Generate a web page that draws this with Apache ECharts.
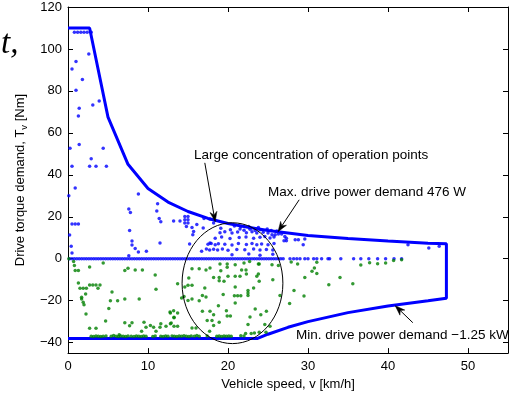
<!DOCTYPE html>
<html><head><meta charset="utf-8">
<script src="https://cdn.jsdelivr.net/npm/echarts@6/dist/echarts.min.js"></script>
<style>html,body{margin:0;padding:0;background:#fff}#c{width:511px;height:396px}</style>
</head><body><div id="c"></div>
<script>
// ---------- data ----------
const xTicks = [0, 10, 20, 30, 40, 50];
const yTicks = [-40, -20, 0, 20, 40, 60, 80, 100, 120];

// operating-region boundary (max torque / max power, then min power / min torque)
const boundary = [[0,110],[2.7,110],[5,67.5],[7.5,45],[10,33.5],[12.5,27],[15,22.5],[17.5,19.2],[20,16.8],[22.5,15],[25,13.4],[30,11.1],[35,9.6],[40,8.4],[45,7.4],[47.3,7.1],[47.3,-18.8],[45,-20],[40,-22.5],[35,-25.7],[30,-30],[27.5,-32.7],[25,-36],[23.7,-38],[0,-38]];

// speeds of blue operating points lying on T = 0
const zeroSpeeds = [0.2,0.5,0.8,1.1,1.4,1.7,2.0,2.3,2.6,2.9,3.2,3.5,3.8,4.1,4.4,4.7,5.0,5.3,5.6,5.9,6.2,6.5,6.8,7.1,7.4,7.7,8.0,8.3,8.6,8.9,9.2,9.5,9.8,10.1,10.4,10.7,11.0,11.3,11.6,11.9,12.2,12.5,12.8,13.1,13.4,13.7,14.0,14.3,14.6,14.9,15.2,15.5,15.8,16.1,16.4,16.7,17.0,17.3,17.6,17.9,18.2,18.5,18.8,19.1,19.4,19.7,20.0,20.3,20.6,20.9,21.2,21.5,21.8,22.1,22.4,22.7,23.0,23.3,23.6,23.9,24.2,24.5,24.8,25.1,25.4,25.7,26.0,26.3,26.6,26.9,27.75,28.2,28.6,29.0,29.6,30.0,30.7,31.1,31.7,32.5,32.7,34.1,35.7,36.6,37.6,38.7,39.7,40.75,41.7];

// blue operating points (T > 0)
const bluePoints = [[0.8,108],[1.2,108],[1.6,108],[2.0,108],[2.4,108],[2.9,108],
[2.6,97.6],[1.0,94],[0.5,90.5],[1.8,85.4],[1.0,80.3],[3.9,75.2],[3.1,73.3],[1.4,71.7],[1.3,68],[0.25,52.7],[1.4,54.4],[4.4,52.7],[2.9,47.6],[0.5,44.1],[2.7,44.1],[3.5,44.1],[4.8,44.1],[0.9,33.7],[0.1,30],[8.8,30.8],
[7.6,23.7],[7.8,22],[11.1,22.7],[11.4,19.2],[11.6,17.6],[11.2,26.2],[0.5,16.5],[0.9,16.5],[1.3,16.5],[7.7,13.5],[0.2,11.3],[8.0,8.4],[8.0,6.5],[8.4,4.9],[0.4,5.9],[8.8,3.2],[9.8,3.5],[0.5,2.7],[7.6,1.4],[11.5,7.5],
[13.2,18],[14.0,18],[14.6,20.1],[15.0,20.1],[14.6,18.6],[15.0,18.6],[14.6,17],[15.0,17],[14.8,15.4],[15.5,14.9],[15.7,13],[15.6,11.4],[16.1,16.3],[16.9,14.6],[17.0,19.2],[17.75,18.9],[18.2,17],[15.2,7],[16.7,3.5],[17.3,4.6],[17.75,7.5],
[19.1,14.5],[20.3,13.8],[21.5,14.2],[22,13.6],[22.75,14],[23.4,13.4],[24,13.8],
[19,12.4],[19.6,12.9],[20.5,12.2],[21.2,12.7],[22.3,12.4],[23,12.9],[23.6,12.2],[24.4,12.6],[25,12.3],
[18.4,9.8],[19.2,10.3],[20.25,9.6],[21.4,10.1],[22.25,10.3],[23.2,9.7],[24,10.2],[24.6,10.6],[25.25,9.9],[25.75,10.3],
[17.5,6.9],[17.9,7.3],[18.4,6.6],[18.8,7.1],[19.6,6.9],[20.5,6.5],[21.3,7.2],[22.3,6.8],[23,7.3],[23.6,6.6],[24.2,7],[25,6.7],[25.75,7.2],
[17.7,4.1],[18.2,4.5],[18.7,4.2],[19.3,4.6],[20,4],[21.1,4.4],[22.1,4.3],[23.2,4.6],[24,4.1],[24.8,4.4],[25.6,4.2],
[20.5,1.9],[22.6,2.2],[24,1.7],[25.6,2.1],
[20.8,15.6],[21.6,15.2],[22.6,15.4],[23.8,14.9],[24.9,14.2],[25.4,13.5],[26.1,13.2],
[26.3,11.8],[26.7,11.8],[27.1,10.6],[27.3,9.8],[27,8.6],[27.3,8.6],[28.4,9],[28.8,9],[29.6,9.4],[29.4,6.7],[25.5,11.4],[25.9,11.4],[42.5,6.7],[45.1,5.1],[46.4,5.9]];

// green operating points (T < 0)
const greenPoints = [[0.1,0],[0.7,-1.3],[0.8,-3.2],[0.9,-5.6],[1.3,-5.6],[2.7,-4],[4.4,-2],[7.1,-5.6],[7.5,-4.6],[8.4,-5.4],[9.3,-5.4],[10.9,-7.8],[1.3,-11.6],[2.7,-12.5],[3.1,-12.5],[3.5,-12.5],[4.0,-12.5],[1.5,-14.1],[1.9,-14.1],[2.3,-14.1],[3.75,-14.1],[2.2,-16.8],[5.5,-15.9],[11,-14.6],[1.7,-18.4],[1.7,-19.2],[1.9,-20.8],[2.0,-21.9],[5.3,-20.1],[6.2,-20.1],[7.1,-19.2],[8.9,-19.2],[5.1,-23.7],[2.25,-26.3],[4.7,-29.7],[2.7,-33.2],[3.5,-33.2],[7.1,-30.5],[8,-30.5],[7.7,-32],[9.5,-30.3],[9.2,-34.6],[9.75,-32.7],[10.3,-31.9],[10.7,-32.7],[11,-34.6],[11.6,-31],[11.5,-32.7],[12.25,-32.2],[12.8,-31],[12.8,-25.9],[13.2,-24.8],[13.25,-28.2],[13.25,-32.2],[6.4,-36.2],[13.7,-25.9],[13.7,-32.2],
[15.5,-4.8],[16.4,-4.8],[17.25,-5.4],[17.75,-4.4],[19,-2.5],[19.9,-2.5],[19.1,-5.7],[19.9,-4.1],[20.9,-2.9],[22,-2],[22.7,-1.3],[21.7,-5.4],[22.25,-5.4],[22.3,-7.3],[23.8,-2.5],[23.8,-7.3],[18.2,-8.9],[18.9,-8.9],[18.9,-10.5],[19.5,-10.8],[20,-8.4],[20.9,-8.4],[21.5,-8.4],[15.1,-9.2],[13.7,-11.9],[15,-12.7],[15.5,-12.7],[14.6,-13.5],[17.1,-14],[20.9,-13.5],[22.5,-15.1],[22.5,-16.3],[22.5,-17.5],[23.2,-14],[16.8,-17.5],[17.25,-18.2],[19.4,-17.1],[20.8,-17.6],[21.2,-17.6],[21.6,-17.6],[14.5,-18],[14.2,-18.7],[15.5,-19.2],[15,-19.9],[16.4,-20],[20.9,-21.1],[18.8,-22.4],[23.4,-24],[16.8,-25.1],[17.75,-25.1],[18.2,-26.7],[19.8,-24.8],[19.9,-27.3],[20.3,-27.3],[22.75,-27.8],[17.4,-29.4],[18,-29.4],[18.9,-30.3],[18.2,-31.9],[15.5,-33],[16,-33],[17.7,-34.6],[22.5,-31.4],[23.3,-35.4],[22.9,-35.7],[22.2,-35.7],[12.75,-25.4],[13.25,-27.9],[12.9,-30.6],
[23.9,-2.5],[25.5,-2.9],[26.3,-3.2],[27.9,-1.6],[28.7,-2.5],[30.8,-4.4],[30.5,-6],[31.1,-7],[29.6,-8.9],[23.6,-8.4],[23.9,-10.8],[25.6,-10],[26.5,-17.5],[28.25,-15.2],[29.5,-17.8],[27.7,-21.4],[32.6,-12.4],[24.8,-25.1],[24.1,-26.7],[24.6,-31.4],[25.25,-32.2],[23.9,-35.1],[24.75,-35.1],[31.1,-1.7],[34,-8.9],[35.6,-11.9],[36.6,-3],[37.7,-1.9],[38.7,-2.4],[39.7,-2],[40.7,-0.8],[41.7,-0.5]];

// green points crowded along the minimum-torque limit
const greenLimitPoints = [[2.9,-37],[3.2,-37.1],[3.5,-36.9],[3.8,-37],[4.1,-37.1],[4.4,-37],[4.75,-36.8],[5.4,-37],[5.7,-36.6],[6.0,-37],[6.3,-37.1],[6.6,-36.9],[6.9,-37],[7.2,-37.1],[7.5,-36.8],[7.9,-37],[8.25,-37.1],[8.55,-36.9],[8.85,-37],[9.15,-37.1],[9.45,-36.9],[9.75,-37],[10.6,-37.1],[10.9,-36.8],[11.6,-37],[11.9,-37.1],[12.2,-36.9],[12.5,-37],[13.0,-36.8],[13.3,-37],[13.6,-37.1],[13.9,-36.9],[14.2,-37],[14.5,-36.7],[14.8,-37],[15.1,-37.1],[15.4,-36.9],[15.8,-37],[16.1,-36.6],[16.4,-37],[17.4,-36.9],[18.6,-37],[18.9,-36.9],[19.2,-37.1],[19.5,-36.8],[19.8,-37],[20.1,-36.9],[20.4,-37],[21.6,-36.7],[22.0,-36.9]];

// ---------- annotations (data coordinates) ----------
const notes = [
  {text:'Large concentration of operation points', at:[15.75,49.5], from:[17.1,45.7], to:[18.4,17.6]},
  {text:'Max. drive power demand 476 W', at:[25,31.9], from:[28.9,28.1], to:[26.25,12.9]},
  {text:'Min. drive power demand \u22121.25 kW', at:[28.5,-36.7], from:[43.1,-30.5], to:[40.9,-22.4]}
];
const ellipseSpec = {center:[20.56,-11.67], rx:6.3, ry:28.8};

// ---------- chart ----------
const FONT = "'Liberation Sans', Arial, Helvetica, sans-serif";
const BLUE = '#0000ff', GREEN = '#008000';
const chart = echarts.init(document.getElementById('c'), null, {renderer:'canvas'});
const axisLine = {show:true, onZero:false, lineStyle:{color:'#000', width:1}};
const option = {
  animation:false,
  backgroundColor:'#fff',
  grid:{left:68, right:3, top:7, bottom:42, containLabel:false},
  xAxis:[
    {type:'value', min:0, max:55, position:'bottom', axisLine, splitLine:{show:false},
     axisTick:{inside:true, length:5, lineStyle:{color:'#000'}, customValues:xTicks},
     axisLabel:{customValues:xTicks, color:'#000', fontFamily:FONT, fontSize:13, margin:7},
     name:'Vehicle speed, v [km/h]', nameLocation:'middle', nameGap:22,
     nameTextStyle:{color:'#000', fontFamily:FONT, fontSize:13}},
    {type:'value', min:0, max:55, position:'top', axisLine, splitLine:{show:false},
     axisTick:{inside:true, length:5, lineStyle:{color:'#000'}, customValues:xTicks},
     axisLabel:{show:false}}
  ],
  yAxis:[
    {type:'value', min:-45, max:120, position:'left', axisLine, splitLine:{show:false},
     axisTick:{inside:true, length:5, lineStyle:{color:'#000'}, customValues:yTicks},
     axisLabel:{customValues:yTicks, color:'#000', fontFamily:FONT, fontSize:13, margin:6,
       formatter:v => (v<0 ? '\u2212'+Math.abs(v) : String(v))},
     name:'Drive torque demand, T{sub|v} [Nm]', nameLocation:'middle', nameGap:37,
     nameTextStyle:{color:'#000', fontFamily:FONT, fontSize:13,
       rich:{sub:{fontSize:9.5, fontFamily:FONT, color:'#000', padding:[7,0,0,0]}}}},
    {type:'value', min:-45, max:120, position:'right', axisLine, splitLine:{show:false},
     axisTick:{inside:true, length:5, lineStyle:{color:'#000'}, customValues:yTicks},
     axisLabel:{show:false}}
  ],
  series:[
    {type:'line', data:boundary, xAxisIndex:0, yAxisIndex:0, showSymbol:false, symbol:'none',
     lineStyle:{color:BLUE, width:3}, z:3},
    {type:'scatter', data:zeroSpeeds.map(v => [v, 0]), symbolSize:3.5,
     itemStyle:{color:BLUE}, z:4},
    {type:'scatter', data:bluePoints, symbolSize:3.5, itemStyle:{color:BLUE}, z:4},
    {type:'scatter', data:greenPoints.concat(greenLimitPoints), symbolSize:3.5, itemStyle:{color:GREEN}, z:5}
  ]
};
chart.setOption(option);

function P(p){ return chart.convertToPixel({seriesIndex:0}, p); }
function arrow(a, b){
  const dx=b[0]-a[0], dy=b[1]-a[1], len=Math.hypot(dx,dy), ux=dx/len, uy=dy/len;
  const nx=-uy, ny=ux, L=10, W=3.5;
  const back=[b[0]-ux*L, b[1]-uy*L];
  const notch=[b[0]-ux*L*0.7, b[1]-uy*L*0.7];
  return [
    {type:'polyline', shape:{points:[a, notch]}, style:{stroke:'#000', lineWidth:1, fill:null}, z:10},
    {type:'polygon', shape:{points:[b,[back[0]+nx*W, back[1]+ny*W], notch, [back[0]-nx*W, back[1]-ny*W]]},
     style:{fill:'#000', stroke:'#000', lineWidth:0.5}, z:10}
  ];
}
const g = [];
const c = P(ellipseSpec.center);
const ex = P([ellipseSpec.center[0]+ellipseSpec.rx, ellipseSpec.center[1]]);
const ey = P([ellipseSpec.center[0], ellipseSpec.center[1]+ellipseSpec.ry]);
g.push({type:'ellipse', shape:{cx:c[0], cy:c[1], rx:Math.abs(ex[0]-c[0]), ry:Math.abs(ey[1]-c[1])},
  style:{fill:null, stroke:'#000', lineWidth:1}, z:9});
notes.forEach(n => {
  const t = P(n.at);
  g.push({type:'text', x:t[0], y:t[1], style:{text:n.text, fill:'#000', font:'13.5px '+FONT, verticalAlign:'middle', align:'left'}, z:11});
  arrow(P(n.from), P(n.to)).forEach(e => g.push(e));
});
g.push({type:'text', x:1, y:61, style:{text:'t,', fill:'#000', font:'italic 33px "Liberation Serif", "DejaVu Serif", serif', verticalAlign:'bottom', align:'left'}, z:11});
chart.setOption({graphic:g});
</script>
</body></html>
